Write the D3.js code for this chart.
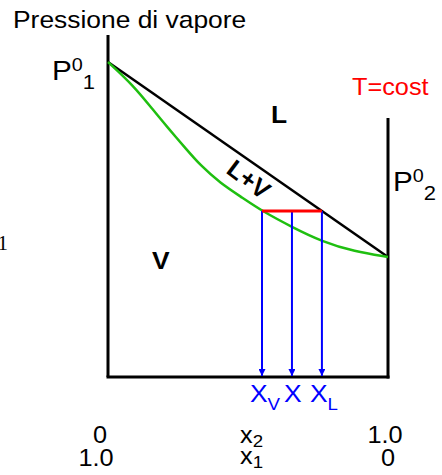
<!DOCTYPE html>
<html>
<head>
<meta charset="utf-8">
<script src="https://cdn.jsdelivr.net/npm/d3@7"></script>
<style>
  body { margin: 0; background: #fff; }
  text { font-family: "Liberation Sans", Arial, sans-serif; }
</style>
</head>
<body>
<div id="chart"></div>
<script>
// Vapour-pressure / composition diagram (T = cost)

// Liquid line (black) and vapour curve (green): x2 vs pressure
const liquidX = [0, 1];
const liquidP = [1.0, 0.381];
const vaporX = [0, 0.089, 0.161, 0.211, 0.282, 0.329, 0.4, 0.482, 0.55, 0.657, 0.764, 0.88, 1.0];
const vaporP = [1.0, 0.927, 0.848, 0.794, 0.721, 0.673, 0.616, 0.568, 0.527, 0.476, 0.430, 0.398, 0.381];

const tieP = 0.527;
const tieX = [0.55, 0.657, 0.764];
const tieLabels = ["X", "X", "X"];
const tieSubs = ["V", "", "L"];

// Axis extents and tick labels
const leftAxisTop = 1.086;
const rightAxisTop = 0.822;
const tickPos = [0, 1];
const tickX2 = ["0", "1.0"];
const tickX1 = ["1.0", "0"];

const width = 442, height = 475;
const sx = 1.1; // text in the original is slightly wide

const svg = d3.select("#chart")
  .append("svg")
  .attr("width", width)
  .attr("height", height);

const x = d3.scaleLinear().domain([0, 1]).range([108, 388]);
const y = d3.scaleLinear().domain([0, 1]).range([377, 62]);

// helper: text placed at (px, py), stretched horizontally
function label(px, py, size, opts = {}) {
  const t = svg.append("text")
    .attr("transform", `translate(${px},${py}) scale(${sx},1)`)
    .style("font-size", size + "px");
  if (opts.anchor) t.attr("text-anchor", opts.anchor);
  if (opts.fill) t.attr("fill", opts.fill);
  if (opts.bold) t.style("font-weight", "bold");
  return t;
}

// Axes frame
svg.append("line")
  .attr("x1", x(0)).attr("x2", x(0))
  .attr("y1", y(0)).attr("y2", y(leftAxisTop))
  .attr("stroke", "#000").attr("stroke-width", 3);
svg.append("line")
  .attr("x1", x(1)).attr("x2", x(1))
  .attr("y1", y(0) + 1.5).attr("y2", y(rightAxisTop))
  .attr("stroke", "#000").attr("stroke-width", 3);
svg.append("line")
  .attr("x1", x(0) - 1.5).attr("x2", x(1) + 1.5)
  .attr("y1", y(0)).attr("y2", y(0))
  .attr("stroke", "#000").attr("stroke-width", 3);

// Liquid line
svg.append("path")
  .attr("d", d3.line().x(d => x(d[0])).y(d => y(d[1]))(liquidX.map((v, i) => [v, liquidP[i]])))
  .attr("fill", "none")
  .attr("stroke", "#000")
  .attr("stroke-width", 2.5);

// Vapour curve
svg.append("path")
  .attr("d", d3.line().x(d => x(d[0])).y(d => y(d[1])).curve(d3.curveBasis)(vaporX.map((v, i) => [v, vaporP[i]])))
  .attr("fill", "none")
  .attr("stroke", "#1fbf10")
  .attr("stroke-width", 2.5);

// Blue arrows down to the axis
svg.append("defs").append("marker")
  .attr("id", "arrow")
  .attr("viewBox", "0 0 10 10")
  .attr("refX", 10).attr("refY", 5)
  .attr("markerWidth", 7).attr("markerHeight", 7)
  .attr("markerUnits", "userSpaceOnUse")
  .attr("orient", "auto")
  .append("path")
  .attr("d", "M0,0 L10,5 L0,10 Z")
  .attr("fill", "#0000ff");

svg.selectAll(".arrow")
  .data(tieX)
  .enter()
  .append("line")
  .attr("x1", d => x(d)).attr("x2", d => x(d))
  .attr("y1", y(tieP)).attr("y2", y(0) - 1)
  .attr("stroke", "#0000ff")
  .attr("stroke-width", 2)
  .attr("marker-end", "url(#arrow)");

// Red tie line
svg.append("line")
  .attr("x1", x(tieX[0])).attr("x2", x(tieX[2]))
  .attr("y1", y(tieP)).attr("y2", y(tieP))
  .attr("stroke", "#ff0000")
  .attr("stroke-width", 3);

// Labels under the arrows
tieX.forEach((d, i) => {
  const t = label(x(d) - (tieSubs[i] ? 12 : 8), 402, 24, { fill: "#0000ff" });
  t.append("tspan").text(tieLabels[i]);
  t.append("tspan").attr("dy", 8).style("font-size", "17px").text(tieSubs[i]);
});

// Title
label(13, 28, 24).text("Pressione di vapore");

// P0_1 and P0_2
function pLabel(px, py, sub) {
  const t = label(px, py, 27);
  t.append("tspan").text("P");
  t.append("tspan").attr("dy", -9).style("font-size", "18px").text("0");
  t.append("tspan").attr("dy", 18).style("font-size", "20px").text(sub);
}
pLabel(52, 80, "1");
pLabel(393, 191, "2");

label(352, 95, 23, { fill: "#ff0000" }).text("T=cost");

// Region labels
label(271, 123, 24, { bold: true }).text("L");
label(152, 269, 24, { bold: true }).text("V");
svg.append("text")
  .attr("transform", "translate(249,179) rotate(37)")
  .attr("text-anchor", "middle")
  .attr("dominant-baseline", "central")
  .style("font-size", "25px").style("font-weight", "bold")
  .text("L+V");

// Serif digit cut by the left edge
svg.append("text")
  .attr("x", 8).attr("y", 250)
  .attr("text-anchor", "end")
  .style("font-family", "'Liberation Serif', serif")
  .style("font-size", "21px")
  .text("1");

// Composition tick labels
const off2 = [-8, -3], off1 = [-12, 0];
tickPos.forEach((d, i) => {
  label(x(d) + off2[i], 443, 23, { anchor: "middle" }).text(tickX2[i]);
  label(x(d) + off1[i], 466, 23, { anchor: "middle" }).text(tickX1[i]);
});

function xLabel(py, sub) {
  const t = label(x(0.5) - 8, py, 23);
  t.append("tspan").text("x");
  t.append("tspan").attr("dy", 4).style("font-size", "17px").text(sub);
}
xLabel(443, "2");
xLabel(464, "1");
</script>
</body>
</html>
